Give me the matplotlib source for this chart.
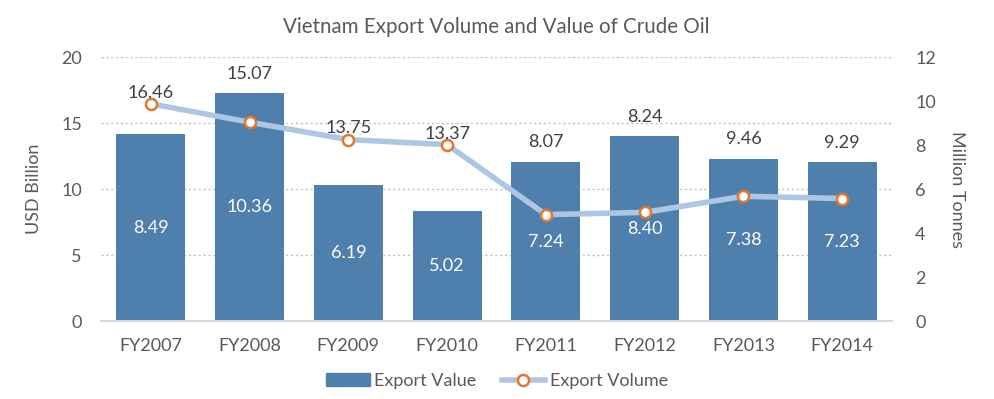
import matplotlib.pyplot as plt
from matplotlib.lines import Line2D
from matplotlib.patches import Patch

plt.rcParams['font.family'] = ['Lato', 'DejaVu Sans']

years = ["FY2007", "FY2008", "FY2009", "FY2010", "FY2011", "FY2012", "FY2013", "FY2014"]
export_value = [8.49, 10.36, 6.19, 5.02, 7.24, 8.40, 7.38, 7.23]
export_volume = [16.46, 15.07, 13.75, 13.37, 8.07, 8.24, 9.46, 9.29]

txt = "#595959"
bar_c = "#4E7FAD"
line_c = "#AEC6E4"
mark_c = "#E2772E"

fig = plt.figure(figsize=(9.94, 3.99), dpi=100)
ax = fig.add_axes([0.102, 0.195, 0.795, 0.662])
ax2 = ax.twinx()

x = list(range(len(years)))
scale = 20 / 12  # right axis -> left axis units

# bars use right axis, line uses left axis
ax2.bar(x, export_value, width=0.7, color=bar_c, zorder=2)
ax2.set_ylim(0, 12)
ax2.set_yticks(range(0, 13, 2))
for xi, v in zip(x, export_value):
    ax2.text(xi, v / 2, f"{v:.2f}", ha="center", va="center", color="white", fontsize=13)

ax.set_zorder(ax2.get_zorder() + 1)
ax.patch.set_visible(False)
ax.plot(x, export_volume, color=line_c, lw=4, marker="o", ms=8, mfc="white",
        mec=mark_c, mew=1.8, zorder=3)
# labels sit above the point, or above the bar if the bar is taller
for xi, v, b in zip(x, export_volume, export_value):
    if b * scale > v:
        anchor, off = b * scale, 14
    else:
        anchor, off = v, 8
    ax.annotate(f"{v:.2f}", (xi, anchor), xytext=(0, off), textcoords="offset points",
                ha="center", va="center", color="#404040", fontsize=13)
ax.set_ylim(0, 20)
ax.set_yticks(range(0, 21, 5))
ax.set_xlim(-0.5, len(years) - 0.5)
ax.set_xticks(x)
ax.set_xticklabels(years)

# gridlines drawn on the back axis so they sit behind bars
for g in range(5, 21, 5):
    ax2.axhline(g / scale, color="#BFBFBF", lw=1, ls=(0, (1.5, 2)), zorder=0)

for a in (ax, ax2):
    for s in a.spines.values():
        s.set_visible(False)
    a.tick_params(length=0, colors=txt, labelsize=13)
ax.tick_params(axis="y", pad=14)
ax2.tick_params(axis="y", pad=17)
ax.spines["bottom"].set_visible(True)
ax.spines["bottom"].set_color("#D9D9D9")
ax.spines["bottom"].set_linewidth(1.5)
ax.tick_params(axis="x", pad=12)

ax.set_ylabel("USD Billion", color=txt, fontsize=13, labelpad=14)
ax2.set_ylabel("Million Tonnes", color=txt, fontsize=13, rotation=270, labelpad=21)
ax.set_title("Vietnam Export Volume and Value of Crude Oil", color=txt, fontsize=14.8, pad=17)

handles = [Patch(color=bar_c, label="Export Value"),
           Line2D([0], [0], color=line_c, lw=4, marker="o", ms=8, mfc="white",
                  mec=mark_c, mew=1.8, label="Export Volume")]
fig.legend(handles=handles, loc="center", bbox_to_anchor=(0.5, 0.045), ncol=2,
           frameon=False, fontsize=13, labelcolor=txt, handlelength=2.4,
           handleheight=0.7, columnspacing=1.4, handletextpad=0.25)

fig.savefig("out.png", dpi=100)
